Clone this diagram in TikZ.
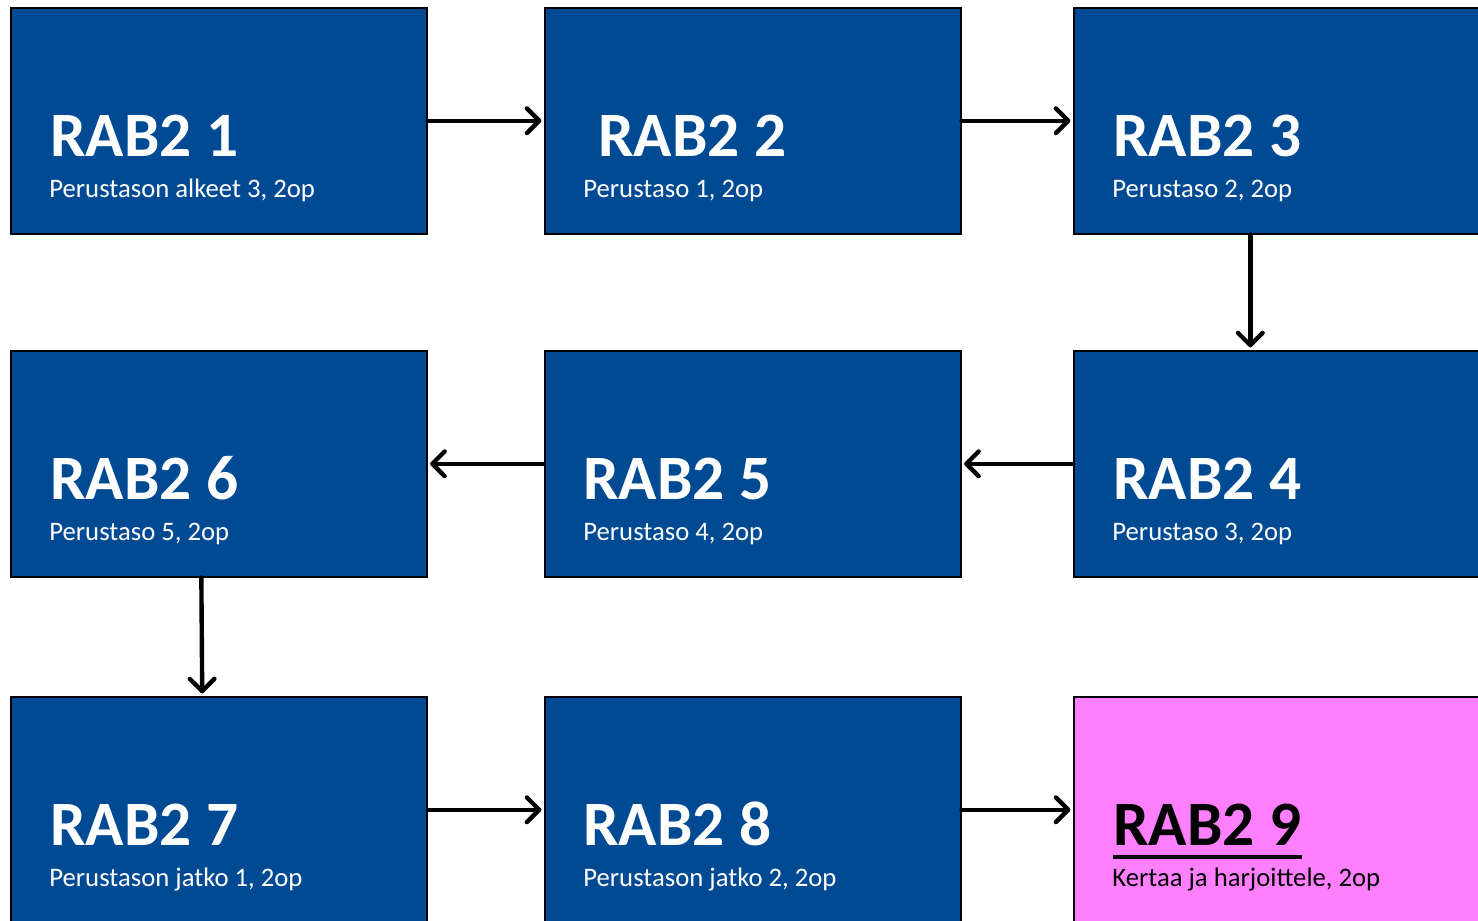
\documentclass[tikz,border=0pt]{standalone}
\usepackage{fontspec}
\setmainfont{Carlito}
\usepackage{tikz}
\usetikzlibrary{positioning,
                arrows.meta,
                calc}

\begin{document}
\begin{tikzpicture}[x=0.02cm,y=-0.02cm,
  box/.style={draw=black,line width=0.9pt,fill=course,anchor=north west,
              minimum width=8.32cm,minimum height=4.52cm,inner sep=0pt},
  title/.style={anchor=base west,inner sep=0pt,text=white,
                font=\fontsize{36}{36}\selectfont\bfseries},
  sub/.style={anchor=base west,inner sep=0pt,text=white,
              font=\fontsize{15.2}{16}\selectfont},
  flow/.style={line width=2.5pt,line cap=round,shorten >=1.5pt,
               -{Straight Barb[round,length=7pt,width=14pt,line width=2.5pt]}}]
\colorlet{course}{rgb,255:red,0;green,74;blue,148}
\colorlet{extra}{rgb,255:red,255;green,128;blue,255}
\useasboundingbox (0,0) rectangle (1478,920);
\clip (0,0) rectangle (1478,920);
% row 1
\node [box] (r1) at (10,7) {};
\node [box] (r2) at (544,7) {};
\node [box] (r3) at (1073,7) {};
% row 2
\node [box] (r6) at (10,350) {};
\node [box] (r5) at (544,350) {};
\node [box] (r4) at (1073,350) {};
% row 3
\node [box] (r7) at (10,696) {};
\node [box] (r8) at (544,696) {};
\node [box,fill=extra] (r9) at (1073,696) {};
% texts
\foreach \n/\tx/\t/\s in {r1/40/1/{Perustason alkeet 3, 2op},
                          r2/54/2/{Perustaso 1, 2op},
                          r3/40/3/{Perustaso 2, 2op},
                          r4/40/4/{Perustaso 3, 2op},
                          r5/39/5/{Perustaso 4, 2op},
                          r6/40/6/{Perustaso 5, 2op},
                          r7/40/7/{Perustason jatko 1, 2op},
                          r8/39/8/{Perustason jatko 2, 2op}}{
  \node [title] (\n t) at ($(\n.north west)+(\tx,149)$) {RAB2 \t};
  \node [sub] (\n s) at ($(\n.north west)+(39,190)$) {\s};
}
\node [title,text=black] (r9t) at ($(r9.north west)+(40,149)$) {RAB2 9};
\draw [line width=2.2pt] ([yshift=-7pt]r9t.base west) -- ([yshift=-7pt]r9t.base east);
\node [sub,text=black] (r9s) at ($(r9.north west)+(39,190)$) {Kertaa ja harjoittele, 2op};
% connectors
\draw [flow] (r1) -- (r2);
\draw [flow] (r2) -- (r3);
\draw [flow] ([xshift=-17.9pt]r3.south) -- ([xshift=-17.9pt]r4.north);
\draw [flow] (r4) -- (r5);
\draw [flow] (r5) -- (r6);
\draw [flow] ([xshift=-9.9pt]r6.south) -- ([xshift=-9.4pt]r7.north);
\draw [flow] (r7) -- (r8);
\draw [flow] (r8) -- (r9);
\end{tikzpicture}
\end{document}
